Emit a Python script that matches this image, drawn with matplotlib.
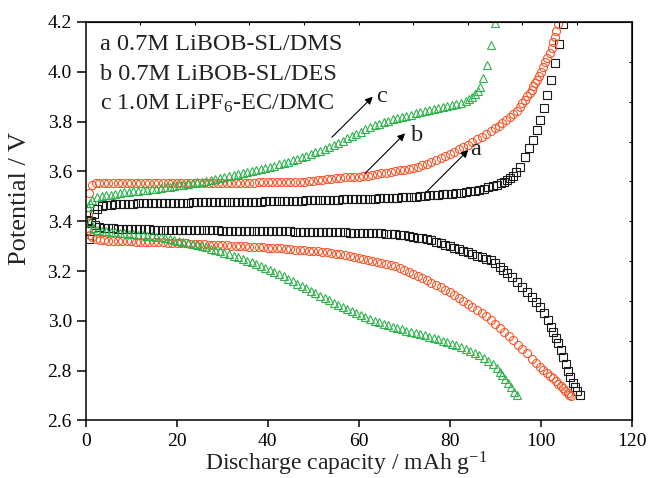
import matplotlib
matplotlib.use('Agg')
import matplotlib.pyplot as plt
from matplotlib.ticker import FormatStrFormatter

plt.rcParams['font.family'] = ['Liberation Serif', 'DejaVu Serif']
plt.rcParams['mathtext.fontset'] = 'custom'
plt.rcParams['mathtext.rm'] = 'Liberation Serif'
plt.rcParams['mathtext.it'] = 'Liberation Serif:italic'

# ---------------- data (capacity mAh/g, potential V) ----------------
a_ch_x = [0.7, 1.2, 1.8, 2.5, 3.5, 4.5,
          5.5, 6.5, 7.5, 8.5, 9.5, 10.5, 11.5, 12.5, 13.5, 14.5,
          15.5, 16.5, 17.5, 18.5, 19.5, 20.5, 21.5, 22.5, 23.5, 24.5,
          25.5, 26.5, 27.5, 28.5, 29.5, 30.5, 31.5, 32.5, 33.5, 34.5,
          35.5, 36.5, 37.5, 38.5, 39.5, 40.5, 41.5, 42.5, 43.5, 44.5,
          45.5, 46.5, 47.5, 48.5, 49.5, 50.5, 51.5, 52.5, 53.5, 54.5,
          55.5, 56.5, 57.5, 58.5, 59.5, 60.5, 61.5, 62.5, 63.5, 64.5,
          65.5, 66.5, 67.5, 68.5, 69.5, 70.5, 71.5, 72.5, 73.5, 74.5,
          75.5, 76.5, 77.5, 78.5, 79.5, 80.5, 81.5, 82.5, 83.5, 84.5,
          85.5, 86.5, 87.5, 88.5, 89.5, 90.5,
          91.2, 91.9, 92.6, 93.3, 93.9, 94.6, 95.4, 96.5, 97.4, 98.3, 99.2, 99.8,
          100.7, 101.4, 102.3, 103.1, 104.0, 104.9]
a_ch_y = [3.330, 3.400, 3.430, 3.450, 3.460, 3.465,
          3.467, 3.468, 3.469, 3.470, 3.471, 3.471, 3.472, 3.472, 3.473, 3.473,
          3.473, 3.474, 3.474, 3.474, 3.475, 3.475, 3.475, 3.475, 3.476, 3.476,
          3.476, 3.476, 3.477, 3.477, 3.477, 3.477, 3.477, 3.478, 3.478, 3.478,
          3.478, 3.479, 3.479, 3.479, 3.480, 3.480, 3.480, 3.481, 3.481, 3.482,
          3.482, 3.483, 3.483, 3.484, 3.484, 3.485, 3.485, 3.486, 3.486, 3.487,
          3.487, 3.488, 3.488, 3.489, 3.489, 3.490, 3.490, 3.491, 3.491, 3.492,
          3.493, 3.494, 3.494, 3.495, 3.496, 3.497, 3.498, 3.499, 3.500, 3.502,
          3.504, 3.505, 3.506, 3.508, 3.509, 3.511, 3.513, 3.515, 3.517, 3.520,
          3.523, 3.527, 3.531, 3.536, 3.541, 3.547,
          3.553, 3.558, 3.565, 3.572, 3.580, 3.598, 3.618, 3.658, 3.694, 3.726, 3.766, 3.806,
          3.855, 3.907, 3.967, 4.035, 4.112, 4.192]

a_dis_x = [0.6, 1.2,
           2, 3, 4, 5, 6, 7, 8, 9, 10, 11,
           12, 13, 14, 15, 16, 17, 18, 19, 20, 21,
           22, 23, 24, 25, 26, 27, 28, 29, 30, 31,
           32, 33, 34, 35, 36, 37, 38, 39, 40, 41,
           42, 43, 44, 45, 46, 47, 48, 49, 50, 51,
           52, 53, 54, 55, 56, 57, 58, 59, 60, 61,
           62, 63, 64, 65, 66, 67, 68, 69, 70, 71,
           72, 73, 74, 75, 76, 77, 78, 79, 80, 81,
           82, 83, 84, 85, 86, 87, 88, 89, 90,
           91.1, 91.8, 92.6, 93.7, 94.8, 95.9, 97.0, 98.1, 99.0, 99.8, 100.7, 101.6,
           102.2, 102.7, 103.3, 103.8, 104.4, 104.9, 105.5, 106.0, 106.5, 107.0,
           107.5, 108.0, 108.7]
a_dis_y = [3.405, 3.393,
           3.384, 3.377, 3.374, 3.372, 3.371, 3.370, 3.369, 3.369, 3.368, 3.368,
           3.367, 3.367, 3.367, 3.366, 3.366, 3.366, 3.365, 3.365, 3.365, 3.365,
           3.364, 3.364, 3.364, 3.364, 3.363, 3.363, 3.363, 3.363, 3.362, 3.362,
           3.362, 3.362, 3.362, 3.361, 3.361, 3.361, 3.361, 3.360, 3.360, 3.360,
           3.360, 3.359, 3.359, 3.359, 3.358, 3.358, 3.358, 3.357, 3.357, 3.357,
           3.356, 3.356, 3.356, 3.355, 3.355, 3.355, 3.354, 3.354, 3.354, 3.353,
           3.353, 3.352, 3.352, 3.351, 3.350, 3.349, 3.347, 3.345, 3.343, 3.340,
           3.337, 3.334, 3.331, 3.327, 3.323, 3.318, 3.312, 3.306, 3.300, 3.294,
           3.288, 3.282, 3.275, 3.269, 3.262, 3.256, 3.250, 3.243, 3.232,
           3.216, 3.205, 3.192, 3.176, 3.156, 3.136, 3.116, 3.096, 3.076, 3.055, 3.030, 3.003,
           2.975, 2.955, 2.933, 2.911, 2.883, 2.855, 2.828, 2.800, 2.775, 2.750,
           2.733, 2.718, 2.702]

b_ch_x = [0.5, 0.7, 1.4, 2.2,
          3, 4, 5, 6, 7, 8, 9, 10, 11, 12,
          13, 14, 15, 16, 17, 18, 19, 20, 21, 22,
          23, 24, 25, 26, 27, 28, 29, 30, 31, 32,
          33, 34, 35, 36, 37, 38, 39, 40, 41, 42,
          43, 44, 45, 46, 47, 48, 49, 50, 51, 52,
          53, 54, 55, 56, 57, 58, 59, 60, 61, 62,
          63, 64, 65, 66, 67, 68, 69, 70, 71, 72,
          73, 74, 75, 76, 77, 78, 79, 80, 81, 82,
          83, 84, 85, 86, 87,
          88, 89, 90, 90.8, 91.6, 92.4, 93.2, 93.9, 94.7, 95.4, 96.0, 96.6, 97.1,
          97.6, 98.0, 98.4, 98.8, 99.2, 99.6, 100.0, 100.5, 101.0, 101.5, 102.0,
          102.4, 102.8, 103.1, 103.4, 103.7]
b_ch_y = [3.425, 3.513, 3.545, 3.552,
          3.553, 3.553, 3.553, 3.553, 3.553, 3.553, 3.553, 3.553, 3.553, 3.553,
          3.553, 3.553, 3.553, 3.554, 3.554, 3.554, 3.554, 3.554, 3.554, 3.554,
          3.554, 3.554, 3.554, 3.554, 3.554, 3.554, 3.554, 3.554, 3.555, 3.555,
          3.555, 3.555, 3.555, 3.555, 3.555, 3.556, 3.556, 3.556, 3.556, 3.557,
          3.557, 3.557, 3.558, 3.558, 3.558, 3.559, 3.561, 3.563, 3.565, 3.567,
          3.569, 3.571, 3.573, 3.575, 3.576, 3.577, 3.578, 3.579, 3.581, 3.583,
          3.586, 3.589, 3.592, 3.595, 3.598, 3.601, 3.604, 3.607, 3.610, 3.614,
          3.618, 3.624, 3.631, 3.638, 3.645, 3.653, 3.662, 3.671, 3.680, 3.689,
          3.698, 3.708, 3.718, 3.729, 3.740,
          3.751, 3.762, 3.773, 3.783, 3.795, 3.806, 3.818, 3.830, 3.844, 3.859, 3.873, 3.888, 3.901,
          3.915, 3.928, 3.941, 3.954, 3.967, 3.982, 4.000, 4.019, 4.038, 4.057, 4.076,
          4.097, 4.118, 4.140, 4.165, 4.190]

b_dis_x = [0.5, 1.0, 1.4, 2.2, 3.1,
           4, 5, 6, 7, 8, 9, 10, 11, 12, 13,
           14, 15, 16, 17, 18, 19, 20, 21, 22, 23,
           24, 25, 26, 27, 28, 29, 30, 31, 32, 33,
           34, 35, 36, 37, 38, 39, 40, 41, 42, 43,
           44, 45, 46, 47, 48, 49, 50, 51, 52, 53,
           54, 55, 56, 57, 58, 59, 60, 61, 62, 63,
           64, 65, 66, 67, 68, 69, 70, 71, 72, 73,
           74, 75, 76, 77, 78, 79, 80, 81, 82, 83,
           84, 85, 86, 87, 88, 89, 90, 91, 92, 93,
           94, 95, 96, 97, 98,
           99, 99.8, 100.6, 101.4, 102.1, 102.7, 103.3, 103.9, 104.4, 104.9,
           105.4, 105.9, 106.3, 106.7]
b_dis_y = [3.365, 3.345, 3.337, 3.330, 3.325,
           3.323, 3.322, 3.321, 3.320, 3.320, 3.319, 3.319, 3.318, 3.318, 3.317,
           3.317, 3.316, 3.316, 3.315, 3.314, 3.314, 3.313, 3.312, 3.311, 3.310,
           3.309, 3.308, 3.307, 3.306, 3.306, 3.305, 3.304, 3.303, 3.302, 3.301,
           3.300, 3.299, 3.298, 3.297, 3.296, 3.295, 3.294, 3.293, 3.292, 3.291,
           3.290, 3.288, 3.286, 3.284, 3.283, 3.282, 3.280, 3.279, 3.277, 3.275,
           3.273, 3.270, 3.268, 3.265, 3.262, 3.258, 3.254, 3.250, 3.246, 3.242,
           3.237, 3.233, 3.229, 3.224, 3.219, 3.213, 3.205, 3.197, 3.189, 3.180,
           3.172, 3.163, 3.154, 3.145, 3.135, 3.124, 3.114, 3.103, 3.092, 3.080,
           3.068, 3.057, 3.045, 3.032, 3.018, 3.003, 2.988, 2.972, 2.957, 2.940,
           2.922, 2.904, 2.887, 2.869, 2.848,
           2.829, 2.814, 2.802, 2.790, 2.779, 2.770, 2.758, 2.747, 2.738, 2.730,
           2.720, 2.711, 2.704, 2.698]

c_ch_x = [0.5, 0.9, 1.5,
          2.5, 3.5, 4.5, 5.5, 6.5, 7.5, 8.5, 9.5, 10.5, 11.5,
          12.5, 13.5, 14.5, 15.5, 16.5, 17.5, 18.5, 19.5, 20.5, 21.5,
          22.5, 23.5, 24.5, 25.5, 26.5, 27.5, 28.5, 29.5, 30.5, 31.5,
          32.5, 33.5, 34.5, 35.5, 36.5, 37.5, 38.5, 39.5, 40.5, 41.5,
          42.5, 43.5, 44.5, 45.5, 46.5, 47.5, 48.5, 49.5, 50.5, 51.5,
          52.5, 53.5, 54.5, 55.5, 56.5, 57.5, 58.5, 59.5, 60.5, 61.5,
          62.5, 63.5, 64.5, 65.5, 66.5, 67.5, 68.5, 69.5, 70.5, 71.5,
          72.5, 73.5, 74.5, 75.5, 76.5, 77.5, 78.5, 79.5, 80.5, 81.5,
          82.5, 83.5,
          84.3, 85.0, 85.6, 86.2, 86.7, 87.3, 88.2, 89.1, 90.0]
c_ch_y = [3.457, 3.473, 3.487,
          3.497, 3.501, 3.504, 3.507, 3.510, 3.513, 3.516, 3.518, 3.520, 3.522,
          3.524, 3.527, 3.529, 3.531, 3.534, 3.536, 3.539, 3.542, 3.545, 3.547,
          3.550, 3.553, 3.556, 3.559, 3.562, 3.566, 3.569, 3.573, 3.577, 3.580,
          3.584, 3.588, 3.592, 3.596, 3.600, 3.604, 3.608, 3.613, 3.618, 3.623,
          3.628, 3.633, 3.638, 3.644, 3.650, 3.656, 3.662, 3.669, 3.676, 3.683,
          3.690, 3.698, 3.706, 3.715, 3.724, 3.733, 3.742, 3.751, 3.760, 3.769,
          3.777, 3.785, 3.792, 3.798, 3.804, 3.809, 3.814, 3.819, 3.823, 3.828,
          3.833, 3.838, 3.843, 3.848, 3.852, 3.856, 3.860, 3.864, 3.867, 3.871,
          3.876, 3.882,
          3.890, 3.899, 3.909, 3.924, 3.940, 3.975, 4.027, 4.108, 4.196]

c_dis_x = [0.9, 1.6,
           2.5, 3.5, 4.5, 5.5, 6.5, 7.5, 8.5, 9.5, 10.5, 11.5,
           12.5, 13.5, 14.5, 15.5, 16.5, 17.5, 18.5, 19.5, 20.5, 21.5,
           22.5, 23.5, 24.5, 25.5, 26.5, 27.5, 28.5, 29.5, 30.5, 31.5,
           32.5, 33.5, 34.5, 35.5, 36.5, 37.5, 38.5, 39.5, 40.5, 41.5,
           42.5, 43.5, 44.5, 45.5, 46.5, 47.5, 48.5, 49.5, 50.5, 51.5,
           52.5, 53.5, 54.5, 55.5, 56.5, 57.5, 58.5, 59.5, 60.5, 61.5,
           62.5, 63.5, 64.5, 65.5, 66.5, 67.5, 68.5, 69.5, 70.5, 71.5,
           72.5, 73.5, 74.5, 75.5, 76.5, 77.5, 78.5, 79.5, 80.5, 81.5,
           82.5, 83.5, 84.5, 85.5, 86.5, 87.5, 88.5, 89.5,
           90.3, 91.0, 91.6, 92.2, 92.8, 93.5, 94.2, 94.8]
c_dis_y = [3.397, 3.373,
           3.366, 3.362, 3.359, 3.357, 3.355, 3.353, 3.351, 3.349, 3.348, 3.346,
           3.345, 3.342, 3.340, 3.338, 3.335, 3.332, 3.329, 3.326, 3.322, 3.318,
           3.314, 3.310, 3.305, 3.300, 3.295, 3.290, 3.285, 3.279, 3.273, 3.267,
           3.261, 3.255, 3.249, 3.242, 3.235, 3.228, 3.221, 3.213, 3.205, 3.197,
           3.188, 3.179, 3.170, 3.160, 3.150, 3.140, 3.130, 3.120, 3.110, 3.100,
           3.091, 3.082, 3.073, 3.064, 3.055, 3.046, 3.038, 3.030, 3.022, 3.014,
           3.007, 3.001, 2.995, 2.989, 2.983, 2.977, 2.971, 2.966, 2.961, 2.956,
           2.951, 2.946, 2.942, 2.937, 2.932, 2.927, 2.921, 2.915, 2.909, 2.902,
           2.895, 2.888, 2.880, 2.871, 2.861, 2.850, 2.838, 2.825,
           2.810, 2.795, 2.781, 2.766, 2.750, 2.733, 2.716, 2.702]

legend_lines = ["a 0.7M LiBOB-SL/DMS", "b 0.7M LiBOB-SL/DES", "c 1.0M LiPF$_6$-EC/DMC"]
x_ticks = [0, 20, 40, 60, 80, 100, 120]
y_ticks = [2.6, 2.8, 3.0, 3.2, 3.4, 3.6, 3.8, 4.0, 4.2]
top_ticks = [12, 24, 36, 48, 60, 72, 84, 96, 108]
right_ticks = [2.76, 2.92, 3.08, 3.24, 3.40, 3.56, 3.72, 3.88, 4.04]

BLACK = '#1a1a1a'
RED = '#F5582C'
GREEN = '#2EB24B'

fig = plt.figure(figsize=(6.49, 4.78), dpi=100)
ax = fig.add_axes([0.132, 0.1203, 0.8413, 0.8337])

mk = dict(linestyle='none', mfc='none', mew=0.8)
ax.plot(a_ch_x, a_ch_y, marker='s', ms=5.2, mec=BLACK, **mk)
ax.plot(a_dis_x, a_dis_y, marker='s', ms=5.2, mec=BLACK, **mk)
ax.plot(b_ch_x, b_ch_y, marker='o', ms=5.8, mec=RED, **mk)
ax.plot(b_dis_x, b_dis_y, marker='o', ms=5.8, mec=RED, **mk)
ax.plot(c_ch_x, c_ch_y, marker='^', ms=6.0, mec=GREEN, **mk)
ax.plot(c_dis_x, c_dis_y, marker='^', ms=6.0, mec=GREEN, **mk)

ax.set_xlim(0, 120)
ax.set_ylim(2.6, 4.2)
ax.set_xticks(x_ticks)
ax.set_yticks(y_ticks)
ax.yaxis.set_major_formatter(FormatStrFormatter('%.1f'))
for s in ax.spines.values():
    s.set_linewidth(1.1)
ax.tick_params(axis='x', direction='out', length=4.8, width=1.1, labelsize=14, pad=4.2)
ax.tick_params(axis='y', direction='out', length=6.5, width=1.1, labelsize=14, pad=3.4)

sx = ax.secondary_xaxis('top')
sx.set_xticks(top_ticks, labels=[])
sx.tick_params(direction='in', length=2.2, width=0.8)
sy = ax.secondary_yaxis('right')
sy.set_yticks(right_ticks, labels=[])
sy.tick_params(direction='in', length=2.2, width=0.8)

# legend text block
for i, t in enumerate(legend_lines):
    ax.text(0.026, 0.930 - i * 0.0745, t, transform=ax.transAxes, fontsize=17.5,
            ha='left', va='baseline', color='#222222')

# annotation arrows
arrow = dict(arrowstyle='-|>', lw=0.8, color='black', mutation_scale=11,
             shrinkA=0, shrinkB=0)
ax.annotate('', xy=(63.1, 3.900), xytext=(54.1, 3.737), arrowprops=arrow)
ax.annotate('', xy=(70.2, 3.753), xytext=(61.4, 3.592), arrowprops=arrow)
ax.annotate('', xy=(84.1, 3.686), xytext=(74.9, 3.518), arrowprops=arrow)
ax.text(63.8, 3.879, 'c', fontsize=17.5, ha='left', va='baseline', color='#222222')
ax.text(71.5, 3.722, 'b', fontsize=17.5, ha='left', va='baseline', color='#222222')
ax.text(84.6, 3.666, 'a', fontsize=17.5, ha='left', va='baseline', color='#222222')

fig.text(0.533, 0.0167, 'Discharge capacity / mAh g$^{-1}$', fontsize=17,
         ha='center', va='baseline', color='#222222')
fig.text(0.031, 0.585, 'Potential / V', fontsize=19, rotation=90,
         ha='center', va='center', color='#222222')

fig.savefig('out.png', dpi=100)
